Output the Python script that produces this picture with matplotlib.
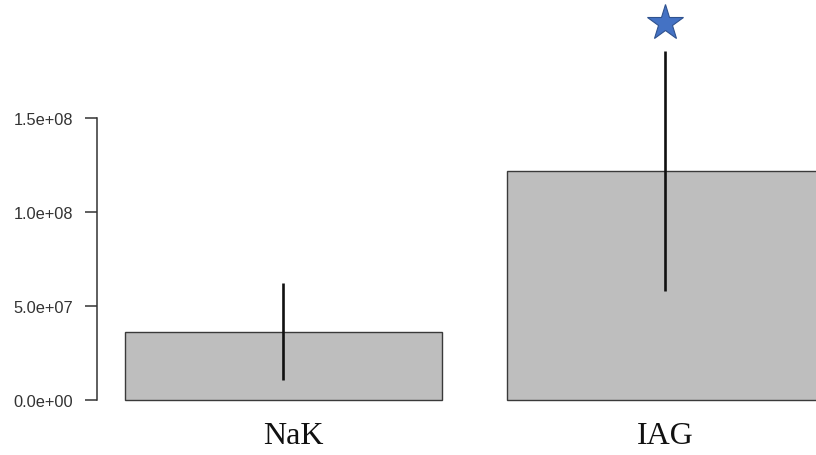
import matplotlib
matplotlib.use("Agg")
import matplotlib.pyplot as plt
import matplotlib.transforms as mtransforms
import numpy as np

groups = ["NaK", "IAG"]
means = [3.62e7, 1.218e8]
sds = [2.58e7, 6.4e7]
star_group = "IAG"
star_y = 2.005e8
yticks = [0, 5e7, 1e8, 1.5e8]
ytick_labels = ["0.0e+00", "5.0e+07", "1.0e+08", "1.5e+08"]

fig = plt.figure(figsize=(8.16, 4.56), dpi=100)
ax = fig.add_axes([97 / 816, 55 / 456, 719 / 816, 401 / 456])

x = np.arange(len(groups))
ax.bar(x, means, width=0.83, color="#bebebe", edgecolor="#3a3a3a",
       linewidth=1.0, clip_on=False, zorder=2)
ax.vlines(x, np.array(means) - np.array(sds), np.array(means) + np.array(sds),
          color="#111111", linewidth=1.9, zorder=3)

sx = groups.index(star_group)
ax.plot(sx, star_y, marker="*", markersize=27, color="#4472c4",
        markeredgecolor="#2f528f", markeredgewidth=0.8, clip_on=False, zorder=4)

ax.set_xlim(-0.487, 1.395)
ax.set_ylim(0, 401 / 188 * 1e8)

for s in ["top", "right", "bottom"]:
    ax.spines[s].set_visible(False)
ax.spines["left"].set_bounds(0, 1.5e8)
ax.spines["left"].set_color("#333333")
ax.spines["left"].set_linewidth(1.1)

ax.set_yticks(yticks)
ax.set_yticklabels(ytick_labels, fontfamily="Liberation Sans", fontsize=11.8,
                   color="#333333")
ax.tick_params(axis="y", length=8.6, width=1.1, color="#333333", pad=8.5)

ax.set_xticks(x)
ax.set_xticklabels(groups, fontfamily="Liberation Serif", fontsize=23,
                   color="#111111")
ax.tick_params(axis="x", length=0, pad=15)

# first group label sits a little right of its bar centre
lab = ax.get_xticklabels()[0]
lab.set_transform(lab.get_transform() +
                  mtransforms.ScaledTranslation(10 / 100, 0, fig.dpi_scale_trans))

fig.savefig("out.png", dpi=100)
